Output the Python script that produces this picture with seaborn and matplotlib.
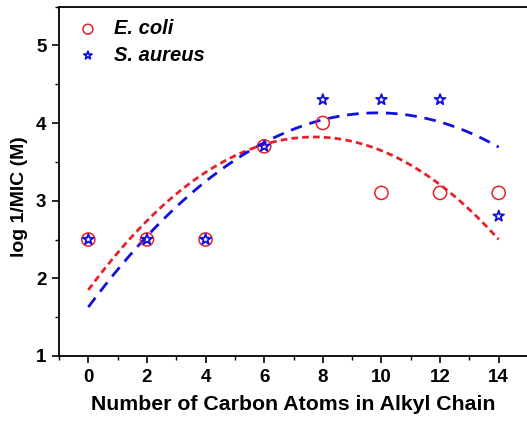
import numpy as np
import pandas as pd
import matplotlib
matplotlib.use("Agg")
import matplotlib.pyplot as plt
import seaborn as sns
from matplotlib.ticker import MultipleLocator

carbon_atoms = [0, 2, 4, 6, 8, 10, 12, 14]
ecoli = [2.5, 2.5, 2.5, 3.7, 4.0, 3.1, 3.1, 3.1]
saureus = [2.5, 2.5, 2.5, 3.7, 4.3, 4.3, 4.3, 2.8]
# quadratic fit coefficients (c2, c1, c0)
ecoli_fit = [-0.03323, 0.5117, 1.850]
saureus_fit = [-0.02572, 0.5072, 1.630]
x_label = "Number of Carbon Atoms in Alkyl Chain"
y_label = "log 1/MIC (M)"

sns.set_theme(style="ticks")
plt.rcParams['font.family'] = ['Liberation Sans', 'DejaVu Sans']
plt.rcParams['font.weight'] = 'bold'
plt.rcParams['text.color'] = 'black'
plt.rcParams['axes.labelcolor'] = 'black'
plt.rcParams['xtick.color'] = 'black'
plt.rcParams['ytick.color'] = 'black'

red = "#e8202a"
blue = "#1010e0"

fig = plt.figure(figsize=(5.27, 4.30), dpi=100)
ax = fig.add_axes([59/527, 1-356/430, 469/527, (356-6.5)/430])

xf = np.linspace(0, 14, 200)
fit_df = pd.DataFrame({
    "x": xf,
    "ec": np.polyval(ecoli_fit, xf),
    "sa": np.polyval(saureus_fit, xf),
})
sns.lineplot(data=fit_df, x="x", y="ec", ax=ax, color=red, lw=2.0,
             linestyle=(0, (2.4, 1.5)))
sns.lineplot(data=fit_df, x="x", y="sa", ax=ax, color=blue, lw=2.0,
             linestyle=(0, (4.2, 2.8)))

df = pd.DataFrame({"x": carbon_atoms, "ec": ecoli, "sa": saureus})
sns.scatterplot(data=df, x="x", y="ec", ax=ax, marker="o", s=90,
                facecolor="none", edgecolor=red, linewidth=1.1,
                label="E. coli", zorder=3)
sns.scatterplot(data=df, x="x", y="sa", ax=ax, marker="*", s=65,
                facecolor="none", edgecolor=blue, linewidth=1.3,
                label="S. aureus", zorder=4)

ax.set_xlim(-1, 15)
ax.set_ylim(1, 5.5)
ax.xaxis.set_major_locator(MultipleLocator(2))
ax.xaxis.set_minor_locator(MultipleLocator(1))
ax.yaxis.set_major_locator(MultipleLocator(1))
ax.yaxis.set_minor_locator(MultipleLocator(0.5))
ax.tick_params(which="major", direction="out", length=5, width=1.2,
               labelsize=13.5, colors="black", pad=4)
ax.tick_params(which="minor", direction="out", length=3, width=1.0)
for lab in ax.get_xticklabels() + ax.get_yticklabels():
    lab.set_fontweight("bold")
ax.set_xlabel(x_label, fontsize=15.3, fontweight="bold", labelpad=7)
ax.set_ylabel(y_label, fontsize=14, fontweight="bold")
ax.yaxis.set_label_coords(-0.066, 0.455)
for s in ["left", "bottom", "top"]:
    ax.spines[s].set_linewidth(1.3)
    ax.spines[s].set_color("black")
ax.spines["right"].set_visible(False)

leg = ax.legend(loc="upper left", frameon=False, fontsize=14.5,
                handlelength=1.0, handletextpad=0.8, borderaxespad=0.0,
                labelspacing=0.36, markerscale=0.75,
                bbox_to_anchor=(0.023, 0.986))
for t in leg.get_texts():
    t.set_fontstyle("italic")
    t.set_fontweight("bold")

fig.savefig("out.png", dpi=100)
